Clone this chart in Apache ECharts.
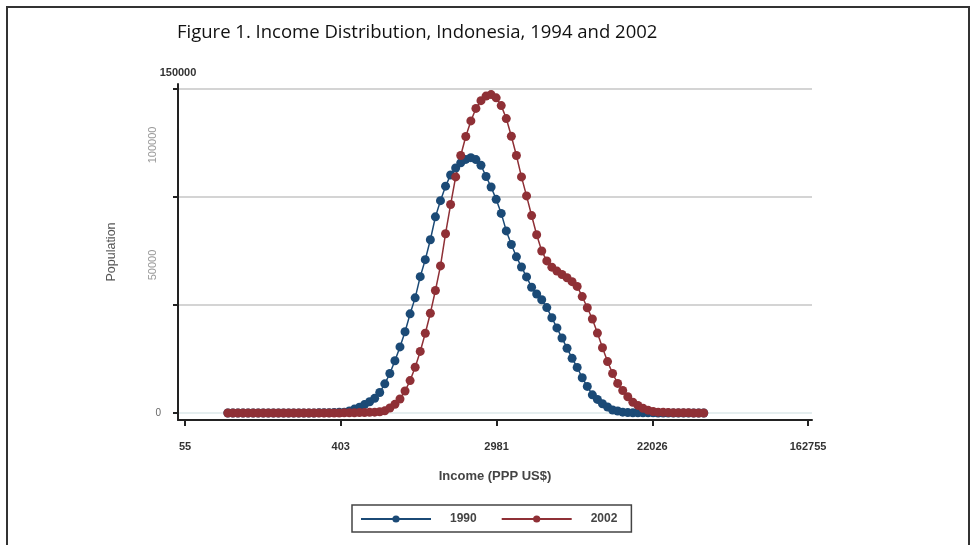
<!DOCTYPE html>
<html>
<head>
<meta charset="utf-8">
<script src="https://cdn.jsdelivr.net/npm/echarts@6/dist/echarts.min.js"></script>
<style>
  html, body { margin: 0; padding: 0; background: #fff; }
  #chart { width: 972px; height: 545px; }
</style>
</head>
<body>
<div id="chart"></div>
<script>
// x positions: log of income (PPP US$), the axis shows exp() of them
var lnIncome = [4.55, 4.615, 4.68, 4.745, 4.81, 4.875, 4.94, 5.005, 5.07, 5.135,
  5.2, 5.265, 5.33, 5.395, 5.46, 5.525, 5.59, 5.655, 5.72, 5.785,
  5.85, 5.915, 5.98, 6.045, 6.11, 6.175, 6.24, 6.305, 6.37, 6.435,
  6.5, 6.565, 6.63, 6.695, 6.76, 6.825, 6.89, 6.955, 7.02, 7.085,
  7.15, 7.215, 7.28, 7.345, 7.41, 7.475, 7.54, 7.605, 7.67, 7.735,
  7.8, 7.865, 7.93, 7.995, 8.06, 8.125, 8.19, 8.255, 8.32, 8.385,
  8.45, 8.515, 8.58, 8.645, 8.71, 8.775, 8.84, 8.905, 8.97, 9.035,
  9.1, 9.165, 9.23, 9.295, 9.36, 9.425, 9.49, 9.555, 9.62, 9.685,
  9.75, 9.815, 9.88, 9.945, 10.01, 10.075, 10.14, 10.205, 10.27, 10.335,
  10.4, 10.465, 10.53, 10.595, 10.66];

var pop1990 = [0, 0, 0, 0, 0, 0, 0, 0, 0, 0,
  0, 0, 0, 0, 0, 0, 0, 0, 100, 100,
  100, 200, 300, 400, 900, 1800, 2700, 3900, 5200, 6800,
  9500, 13500, 18300, 24200, 30600, 37600, 45900, 53300, 63100, 71000,
  80200, 90800, 98300, 105000, 110200, 113400, 115800, 117400, 118200, 117300,
  114700, 109500, 104600, 98900, 92400, 84300, 78000, 72300, 67600, 63000,
  58200, 55100, 52400, 48800, 44100, 39400, 34700, 30000, 25300, 21100,
  16300, 12300, 8400, 6300, 4300, 2800, 1400, 900, 400, 200,
  100, 100, 100, 100, 100, 0, 0, 0, 0, 0,
  0, 0, 0, 0, 0];

var pop2002 = [0, 0, 0, 0, 0, 0, 0, 0, 0, 0,
  0, 0, 0, 0, 0, 0, 0, 0, 0, 0,
  0, 0, 0, 100, 100, 100, 200, 200, 300, 400,
  600, 1000, 2300, 4000, 6500, 10200, 15000, 21200, 28500, 36900,
  46200, 56700, 68100, 83000, 96500, 109300, 119200, 128000, 135200, 141000,
  144600, 146700, 147400, 145900, 142300, 136300, 128100, 119200, 109300, 100500,
  91400, 82500, 75000, 70400, 67500, 65700, 64100, 62600, 60800, 58600,
  53900, 48700, 43500, 37000, 30200, 23800, 18300, 13700, 10400, 7500,
  5000, 3500, 2200, 1300, 700, 400, 300, 200, 100, 100,
  100, 100, 0, 0, 0];

var seriesNames = ['1990', '2002'];
var seriesColors = ['#1b4a76', '#8f3036'];
var xTicks = [4, 6, 8, 10, 12];
var yTicks = [0, 50000, 100000, 150000];

function pairs(ys) {
  return lnIncome.map(function (x, i) { return [x, ys[i]]; });
}

var myChart = echarts.init(document.getElementById('chart'));

var option = {
  backgroundColor: '#fff',
  animation: false,
  title: {
    text: 'Figure 1. Income Distribution, Indonesia, 1994 and 2002',
    left: 172,
    top: 18,
    textStyle: { fontFamily: 'Open Sans', fontSize: 18.5, fontWeight: 'normal', color: '#111' }
  },
  legend: {
    data: seriesNames,
    left: 352,
    top: 505,
    orient: 'horizontal',
    borderColor: '#444',
    borderWidth: 1.5,
    padding: [8, 14, 7, 8],
    itemWidth: 70,
    itemHeight: 9,
    itemGap: 24,
    textStyle: { fontFamily: 'Liberation Sans', fontSize: 12, fontWeight: 'bold', color: '#444', padding: [0, 0, 0, 14] }
  },
  grid: { left: 178, top: 84, width: 634, height: 336, containLabel: false },
  xAxis: {
    type: 'value',
    min: 3.91,
    max: 12.05,
    name: 'Income (PPP US$)',
    nameLocation: 'middle',
    nameGap: 50,
    nameTextStyle: { fontFamily: 'Liberation Sans', fontSize: 13, fontWeight: 'bold', color: '#444' },
    axisLine: { show: true, onZero: false, lineStyle: { color: '#222', width: 2 } },
    axisTick: { show: true, length: 6, customValues: xTicks, lineStyle: { color: '#222', width: 2 } },
    axisLabel: {
      customValues: xTicks,
      margin: 21,
      fontFamily: 'Liberation Sans', fontSize: 11, fontWeight: 'bold', color: '#333',
      formatter: function (v) { return String(Math.round(Math.exp(v))); }
    },
    splitLine: { show: false }
  },
  yAxis: [{
    type: 'value',
    min: -3240,
    max: 152300,
    position: 'left',
    name: '150000',
    nameLocation: 'end',
    nameGap: 6,
    nameTextStyle: { fontFamily: 'Liberation Sans', fontSize: 11, fontWeight: 'bold', color: '#333' },
    axisLine: { show: true, onZero: false, lineStyle: { color: '#222', width: 2 } },
    axisTick: { show: true, length: 5, customValues: yTicks, lineStyle: { color: '#222', width: 2 } },
    axisLabel: {
      customValues: [0],
      margin: 17,
      fontFamily: 'Liberation Sans', fontSize: 10, color: '#666',
      formatter: function (v) { return String(v); }
    },
    splitLine: { show: true, lineStyle: { color: ['#dde9ea', '#c6c6c6', '#c6c6c6', '#c6c6c6'], width: 1.5 } }
  }, {
    type: 'value',
    min: -3240,
    max: 152300,
    position: 'left',
    name: 'Population',
    nameLocation: 'middle',
    nameGap: 60,
    nameTextStyle: { fontFamily: 'Liberation Sans', fontSize: 12.5, color: '#555' },
    axisLine: { show: false },
    axisTick: { show: false },
    splitLine: { show: false },
    axisLabel: {
      customValues: [50000, 100000],
      rotate: 90,
      margin: 20,
      fontFamily: 'Liberation Sans', fontSize: 10, color: '#999',
      formatter: function (v) { return v === 100000 ? '{a|' + v + '}' : '{b|' + v + '}'; },
      rich: {
        a: { padding: [0, 0, 0, 104], fontFamily: 'Liberation Sans', fontSize: 11, color: '#999' },
        b: { padding: [0, 0, 0, 80], fontFamily: 'Liberation Sans', fontSize: 11, color: '#999' }
      }
    }
  }],
  graphic: [{
    type: 'rect',
    silent: true,
    shape: { x: 7, y: 7, width: 962, height: 560 },
    style: { fill: null, stroke: '#333', lineWidth: 2 }
  }],
  series: [{
    name: seriesNames[0],
    type: 'line',
    data: pairs(pop1990),
    symbol: 'circle',
    symbolSize: 9,
    showSymbol: true,
    color: seriesColors[0],
    lineStyle: { width: 1.5, color: seriesColors[0] },
    itemStyle: { color: seriesColors[0] }
  }, {
    name: seriesNames[1],
    type: 'line',
    data: pairs(pop2002),
    symbol: 'circle',
    symbolSize: 9,
    showSymbol: true,
    color: seriesColors[1],
    lineStyle: { width: 1.5, color: seriesColors[1] },
    itemStyle: { color: seriesColors[1] }
  }]
};

myChart.setOption(option);
</script>
</body>
</html>
